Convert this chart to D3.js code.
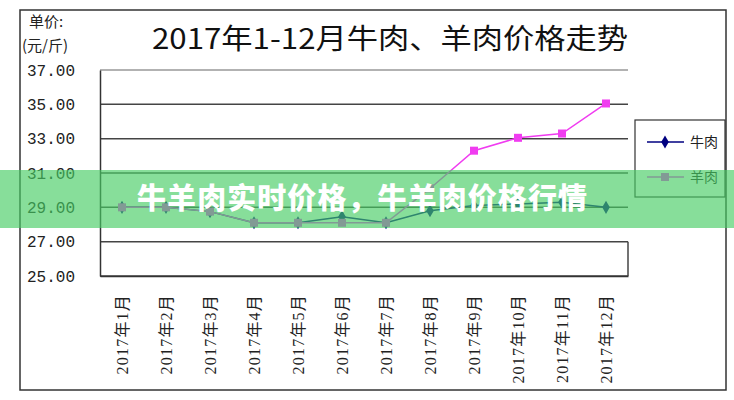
<!DOCTYPE html>
<html><head><meta charset="utf-8">
<script src="https://cdn.jsdelivr.net/npm/d3@7/dist/d3.min.js"></script>
<style>body{margin:0;background:#fff}svg{display:block}</style>
</head><body>
<script>
const months = ["2017年1月","2017年2月","2017年3月","2017年4月","2017年5月","2017年6月","2017年7月","2017年8月","2017年9月","2017年10月","2017年11月","2017年12月"];
const beef = [29.0,29.0,28.75,28.1,28.1,28.45,28.1,28.8,29.1,29.2,29.3,29.0];
const mutton = [29.0,29.0,28.75,28.1,28.1,28.1,28.1,30.1,32.3,33.05,33.3,35.05];
const yTicks = [25,27,29,31,33,35,37];
const seriesNames = ["牛肉","羊肉"];
const title = "2017年1-12月牛肉、羊肉价格走势";
const unitLines = ["单价:","(元/斤)"];
const banner = "牛羊肉实时价格，牛羊肉价格行情";

const W=734,H=400;
const svg=d3.select("body").append("svg").attr("width",W).attr("height",H);
const m={l:100,r:628,t:70,b:276};
const x=d3.scaleBand().domain(months).range([m.l,m.r]);
const y=d3.scaleLinear().domain([25,37]).range([m.b,m.t]);

// frame
svg.append("rect").attr("x",20).attr("y",10).attr("width",706).attr("height",380)
  .attr("fill","#fff").attr("stroke","#333").attr("stroke-width",1.5);

// title
svg.append("text").attr("x",390).attr("y",49).attr("text-anchor","middle")
  .attr("font-family","'Noto Sans CJK SC'").attr("font-size",28).attr("fill","#111")
  .attr("textLength",476).attr("lengthAdjust","spacingAndGlyphs").text(title);
svg.append("text").attr("x",29).attr("y",27).attr("font-family","'Noto Sans CJK SC'").attr("font-size",15).attr("fill","#222").text(unitLines[0]);
svg.append("text").attr("x",22).attr("y",51).attr("font-family","'Noto Sans CJK SC'").attr("font-size",15).attr("fill","#222").text(unitLines[1]);

// gridlines
svg.append("g").selectAll("line").data(yTicks).join("line")
  .attr("x1",m.l).attr("x2",m.r).attr("y1",d=>y(d)).attr("y2",d=>y(d))
  .attr("stroke",d=>d===37?"#999":"#444").attr("stroke-width",1.5);
// y axis
const ya=svg.append("g").attr("transform",`translate(${m.l},0)`)
  .call(d3.axisLeft(y).tickValues(yTicks).tickSize(0).tickPadding(25).tickFormat(d3.format(".2f")));
ya.select(".domain").attr("stroke","#333").attr("stroke-width",1.5);
ya.selectAll("text").attr("font-family","'Liberation Mono'").attr("font-size",16).attr("fill","#222");
// right small border
svg.append("line").attr("x1",m.r).attr("x2",m.r).attr("y1",y(27)).attr("y2",y(25)).attr("stroke","#444").attr("stroke-width",1.5);

// x axis
const xa=svg.append("g").attr("transform",`translate(0,${m.b})`)
  .call(d3.axisBottom(x).tickSize(0).tickPadding(0));
xa.select(".domain").attr("stroke","#333").attr("stroke-width",1.5);
xa.selectAll("text").attr("font-family","'Liberation Serif','Noto Sans CJK SC'").attr("font-size",16)
  .attr("fill","#222").attr("letter-spacing","1.2px")
  .attr("text-anchor","end").attr("dy","0.35em")
  .attr("transform","translate(0,18) rotate(-90)").attr("x",0).attr("y",0);

const cx=d=>x(d)+x.bandwidth()/2;
const line=d3.line().x((d,i)=>cx(months[i])).y(d=>y(d));
const cols=["#000080","#f03cf0"];
const diamond=d3.symbol().type(d3.symbolDiamond).size(50);
// beef first then mutton on top
svg.append("path").datum(beef).attr("d",line).attr("fill","none").attr("stroke",cols[0]).attr("stroke-width",1.5);
svg.append("g").selectAll("path").data(beef).join("path")
  .attr("d",diamond).attr("transform",(d,i)=>`translate(${cx(months[i])},${y(d)})`).attr("fill",cols[0]);
svg.append("path").datum(mutton).attr("d",line).attr("fill","none").attr("stroke",cols[1]).attr("stroke-width",1.5);
svg.append("g").selectAll("rect").data(mutton).join("rect")
  .attr("x",(d,i)=>cx(months[i])-4).attr("y",d=>y(d)-4).attr("width",8).attr("height",8).attr("fill",cols[1]);

// legend
svg.append("rect").attr("x",635).attr("y",120).attr("width",90).attr("height",77)
  .attr("fill","#fff").attr("stroke","#333").attr("stroke-width",1.2);
seriesNames.forEach((n,i)=>{
  const ly=142+i*35;
  svg.append("line").attr("x1",647).attr("x2",684).attr("y1",ly).attr("y2",ly).attr("stroke",cols[i]).attr("stroke-width",1.5);
  if(i===0) svg.append("path").attr("d",diamond).attr("transform",`translate(665,${ly})`).attr("fill",cols[0]);
  else svg.append("rect").attr("x",661).attr("y",ly-4).attr("width",8).attr("height",8).attr("fill",cols[1]);
  svg.append("text").attr("x",690).attr("y",ly+5).attr("font-family","'Noto Sans CJK SC'").attr("font-size",14).attr("fill","#222").text(n);
});

// banner overlay
svg.append("rect").attr("x",0).attr("y",170).attr("width",W).attr("height",58).attr("fill","rgb(70,205,100)").attr("fill-opacity",0.65);
svg.append("text").attr("x",362).attr("y",209).attr("text-anchor","middle")
  .attr("font-family","'Noto Sans CJK SC'").attr("font-weight",900).attr("font-size",29).attr("fill","#fff")
  .attr("textLength",450).attr("lengthAdjust","spacing").text(banner);
</script>
</body></html>
